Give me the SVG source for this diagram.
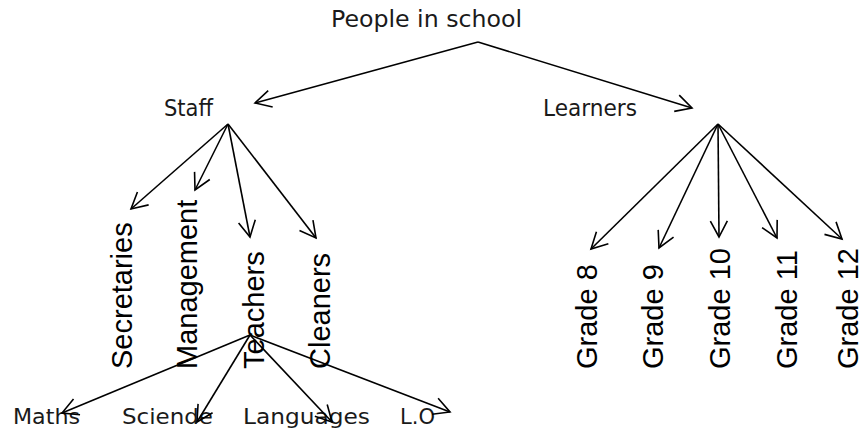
<svg xmlns="http://www.w3.org/2000/svg" width="865" height="431" viewBox="0 0 865 431">
<style>
.g{font-family:"DejaVu Sans","Noto Sans",sans-serif;fill:#1a1a1a}
.top{font-size:23.5px}
.bot{font-size:21px}
.r{font-family:"Liberation Sans",Arial,sans-serif;font-size:29px;fill:#000}
.c line{stroke:#000;stroke-width:1.6;fill:none;marker-end:url(#ah)}
</style>
<defs>
<marker id="ah" markerUnits="userSpaceOnUse" markerWidth="20" markerHeight="20" refX="18" refY="10" orient="auto" overflow="visible">
<path d="M2,1.5 L18,10 L2,18.5" fill="none" stroke="#000" stroke-width="1.6"/>
</marker>
</defs>
<rect width="865" height="431" fill="#fff"/>
<g id="people"><text class="g top" x="331" y="27" textLength="191" lengthAdjust="spacingAndGlyphs">People in school</text></g>
<g id="staff"><text class="g top" x="164" y="116" textLength="49" lengthAdjust="spacingAndGlyphs">Staff</text></g>
<g id="learners"><text class="g top" x="543" y="116" textLength="94" lengthAdjust="spacingAndGlyphs">Learners</text></g>
<g id="secretaries"><text class="r" transform="translate(132,369) rotate(-90)">Secretaries</text></g>
<g id="management"><text class="r" transform="translate(197,369) rotate(-90)">Management</text></g>
<g id="teachers"><text class="r" transform="translate(264,369) rotate(-90)">Teachers</text></g>
<g id="cleaners"><text class="r" transform="translate(330,369) rotate(-90)">Cleaners</text></g>
<g id="grade8"><text class="r" transform="translate(597,369) rotate(-90)">Grade 8</text></g>
<g id="grade9"><text class="r" transform="translate(663,369) rotate(-90)">Grade 9</text></g>
<g id="grade10"><text class="r" transform="translate(730,369) rotate(-90)">Grade 10</text></g>
<g id="grade11"><text class="r" transform="translate(797,369) rotate(-90)">Grade 11</text></g>
<g id="grade12"><text class="r" transform="translate(858,369) rotate(-90)">Grade 12</text></g>
<g id="maths"><text class="g bot" x="13" y="424" textLength="67" lengthAdjust="spacingAndGlyphs">Maths</text></g>
<g id="science"><text class="g bot" x="122" y="424" textLength="91" lengthAdjust="spacingAndGlyphs">Sciende</text></g>
<g id="languages"><text class="g bot" x="243" y="424" textLength="127" lengthAdjust="spacingAndGlyphs">Languages</text></g>
<g id="lo"><text class="g bot" x="400" y="424" textLength="35" lengthAdjust="spacingAndGlyphs">L.O</text></g>
<g id="connectors" class="c">
<line x1="478" y1="42" x2="255" y2="103"/>
<line x1="478" y1="42" x2="692" y2="108"/>
<line x1="228" y1="124" x2="131" y2="209"/>
<line x1="228" y1="124" x2="195" y2="190"/>
<line x1="228" y1="124" x2="250" y2="237"/>
<line x1="228" y1="124" x2="316" y2="238"/>
<line x1="718" y1="124" x2="591" y2="249"/>
<line x1="718" y1="124" x2="659" y2="248"/>
<line x1="718" y1="124" x2="719" y2="237"/>
<line x1="718" y1="124" x2="777" y2="238"/>
<line x1="718" y1="124" x2="842" y2="239"/>
<line x1="250" y1="335" x2="62" y2="413"/>
<line x1="250" y1="335" x2="197" y2="422"/>
<line x1="250" y1="335" x2="332" y2="422"/>
<line x1="250" y1="335" x2="450" y2="412"/>
</g>
</svg>
